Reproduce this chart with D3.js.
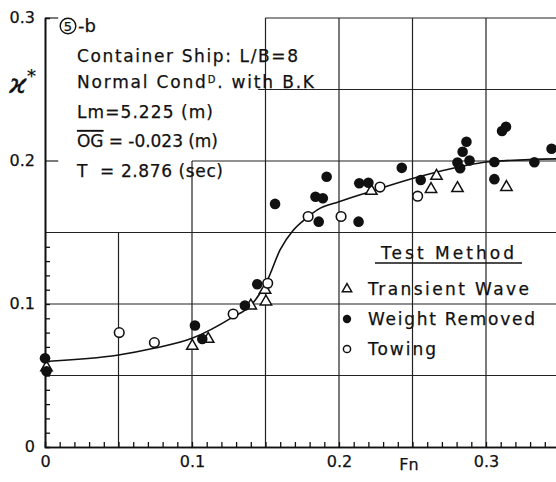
<!DOCTYPE html>
<html>
<head>
<meta charset="utf-8">
<script src="https://cdn.jsdelivr.net/npm/d3@7"></script>
<style>
  body { margin: 0; background: #fff; }
  svg { display: block; }
  text { font-family: "DejaVu Sans", sans-serif; fill: #111; stroke: #111; stroke-width: 0.25; }
</style>
</head>
<body>
<svg id="chart" width="556" height="482"></svg>
<script>
// Weight Removed (filled circles)
var weightFn = [0, 0.001, 0.102, 0.107, 0.136, 0.1444, 0.1565, 0.1916, 0.184, 0.189, 0.1862, 0.2133,
                0.2138, 0.220, 0.2427, 0.2556, 0.2867, 0.2841, 0.2806, 0.2888, 0.2824, 0.3057, 0.3057,
                0.3109, 0.3136, 0.3329, 0.3446];
var weightK  = [0.062, 0.053, 0.085, 0.0755, 0.099, 0.1138, 0.170, 0.189, 0.175, 0.174, 0.1576, 0.1576,
                0.1844, 0.1848, 0.1952, 0.1867, 0.2135, 0.2065, 0.199, 0.2003, 0.1949, 0.1993, 0.1873,
                0.221, 0.224, 0.1991, 0.2086];
// Transient Wave (triangles)
var transFn = [0.001, 0.1002, 0.111, 0.140, 0.1503, 0.1497, 0.222, 0.2663, 0.2626, 0.2806, 0.3139];
var transK  = [0.0557, 0.0706, 0.0755, 0.0988, 0.1016, 0.1098, 0.179, 0.1895, 0.1803, 0.1809, 0.1817];
// Towing (open circles)
var towFn = [0.0505, 0.0744, 0.128, 0.1515, 0.179, 0.2014, 0.2279, 0.2535];
var towK  = [0.080, 0.073, 0.093, 0.1145, 0.1612, 0.1612, 0.1818, 0.1754];
// faired curve
var curveFn = [0, 0.05, 0.074, 0.1, 0.128, 0.14, 0.151, 0.16, 0.169, 0.179, 0.185, 0.2, 0.221, 0.253, 0.282, 0.302, 0.348];
var curveK  = [0.0598, 0.0643, 0.069, 0.076, 0.091, 0.099, 0.116, 0.138, 0.1517, 0.161, 0.1657, 0.1715, 0.1785, 0.1886, 0.196, 0.1995, 0.2015];

var xTicks = [0, 0.1, 0.2, 0.3],
    xTickLabels = ["0", "0.1", "0.2", "0.3"],
    yTicks = [0, 0.1, 0.2, 0.3],
    yTickLabels = ["0", "0.1", "0.2", "0.3"];

var infoLines = ["Container Ship: L/B=8", "Normal Cond", "Lm=5.225 (m)", "OG = -0.023 (m)", "T  = 2.876 (sec)"];
var legendLabels = ["Transient Wave", "Weight Removed", "Towing"];

var svg = d3.select("#chart");

var x = d3.scaleLinear().domain([0, 0.35]).range([45, 559.5]);
var y = d3.scaleLinear().domain([0, 0.3]).range([447, 18]);

var ink = "#111";

// grid pieces (only partly drawn, like the original sheet)
var grid = [
  [0.05, 0, 0.05, 0.15], [0.1, 0, 0.1, 0.2], [0.15, 0, 0.15, 0.3],
  [0.2, 0, 0.2, 0.3], [0.25, 0, 0.25, 0.3], [0.3, 0, 0.3, 0.3],
  [0, 0.05, 0.35, 0.05], [0, 0.1, 0.35, 0.1], [0, 0.15, 0.35, 0.15],
  [0.1, 0.2, 0.35, 0.2], [0, 0.2, 0.009, 0.2],
  [0.145, 0.25, 0.35, 0.25],
  [0.15, 0.3, 0.35, 0.3], [0, 0.3, 0.009, 0.3]
];
svg.append("g").selectAll("line").data(grid).enter().append("line")
    .attr("x1", function(d) { return x(d[0]); })
    .attr("y1", function(d) { return y(d[1]); })
    .attr("x2", function(d) { return x(d[2]); })
    .attr("y2", function(d) { return y(d[3]); })
    .attr("stroke", "#222").attr("stroke-width", 1.2);

// axes
var yMinor = d3.range(1, 15).map(function(i) { return i / 100; });
var xMinor = d3.range(1, 35).map(function(i) { return i / 100; });

svg.append("g")
    .attr("transform", "translate(" + x(0) + ",0)")
    .call(d3.axisRight(y).tickValues(yMinor).tickSize(5).tickFormat(""))
    .call(styleAxis);

svg.append("g")
    .attr("transform", "translate(0," + y(0) + ")")
    .call(d3.axisTop(x).tickValues(xMinor).tickSize(5).tickFormat(""))
    .call(styleAxis);

svg.append("g")
    .attr("transform", "translate(" + x(0) + ",0)")
    .call(d3.axisLeft(y).tickValues(yTicks).tickSize(0).tickPadding(10)
      .tickFormat(function(d, i) { return yTickLabels[i]; }))
    .call(styleAxis)
    .call(function(g) { g.selectAll(".tick text").attr("font-size", 16).attr("dy", "0.3em"); });

svg.append("g")
    .attr("transform", "translate(0," + y(0) + ")")
    .call(d3.axisBottom(x).tickValues(xTicks).tickSize(0).tickPadding(9)
      .tickFormat(function(d, i) { return xTickLabels[i]; }))
    .call(styleAxis)
    .call(function(g) { g.selectAll(".tick text").attr("font-size", 16); });

function styleAxis(g) {
  g.select(".domain").attr("stroke", ink).attr("stroke-width", 1.6);
  g.selectAll(".tick line").attr("stroke", ink).attr("stroke-width", 1.3);
  g.selectAll(".tick text").attr("fill", ink).attr("font-family", "DejaVu Sans");
}

svg.append("text").attr("x", 409).attr("y", 470).attr("text-anchor", "middle")
    .attr("font-size", 16).text("Fn");

var ylab = svg.append("text").attr("x", 9).attr("y", 93)
    .attr("font-family", "DejaVu Serif").attr("font-style", "italic").attr("font-size", 27);
ylab.append("tspan").text("ϰ");
ylab.append("tspan").attr("dy", -11).attr("font-size", 18).attr("font-style", "normal").text("*");

// curve
var line = d3.line()
    .x(function(d, i) { return x(curveFn[i]); })
    .y(function(d, i) { return y(curveK[i]); })
    .curve(d3.curveMonotoneX);
svg.append("path").datum(curveFn)
    .attr("fill", "none").attr("stroke", ink).attr("stroke-width", 1.6)
    .attr("d", line);

// markers
var tri = d3.symbol().type(d3.symbolTriangle).size(56);
svg.append("g").selectAll("path").data(transFn).enter().append("path")
    .attr("transform", function(d, i) { return "translate(" + x(d) + "," + y(transK[i]) + ")"; })
    .attr("d", tri).attr("fill", "#fff").attr("stroke", ink).attr("stroke-width", 1.5);

svg.append("g").selectAll("circle").data(towFn).enter().append("circle")
    .attr("cx", function(d) { return x(d); })
    .attr("cy", function(d, i) { return y(towK[i]); })
    .attr("r", 4.8).attr("fill", "#fff").attr("stroke", ink).attr("stroke-width", 1.6);

svg.append("g").selectAll("circle").data(weightFn).enter().append("circle")
    .attr("cx", function(d) { return x(d); })
    .attr("cy", function(d, i) { return y(weightK[i]); })
    .attr("r", 5.3).attr("fill", ink);

// info text block
var info = svg.append("g").attr("font-size", 17);
// circled 5 drawn as ring + digit (DejaVu's ⑤ glyph is too small)
info.append("circle").attr("cx", 68).attr("cy", 26).attr("r", 7.8)
    .attr("fill", "none").attr("stroke", ink).attr("stroke-width", 1.4);
info.append("text").attr("x", 68).attr("y", 31).attr("text-anchor", "middle")
    .attr("font-size", 13).text("5");
info.append("text").attr("x", 78).attr("y", 32).attr("font-size", 18).text("-b");

info.append("text").attr("x", 77).attr("y", 62).attr("textLength", 221).attr("lengthAdjust", "spacing")
    .text(infoLines[0]);
var t2 = info.append("text").attr("x", 77).attr("y", 88).attr("textLength", 237).attr("lengthAdjust", "spacing");
t2.append("tspan").text(infoLines[1]);
t2.append("tspan").attr("font-size", 10).attr("dy", -5).text("D");
t2.append("tspan").attr("dy", 5).text(". with B.K");
info.append("text").attr("x", 77).attr("y", 118).attr("textLength", 136).attr("lengthAdjust", "spacing")
    .text(infoLines[2]);
var t4 = info.append("text").attr("x", 77).attr("y", 147).attr("textLength", 141).attr("lengthAdjust", "spacing");
t4.append("tspan").style("text-decoration", "overline").text("OG");
t4.append("tspan").text(infoLines[3].slice(2));
info.append("text").attr("x", 77).attr("y", 177).attr("textLength", 146).attr("lengthAdjust", "spacing")
    .attr("xml:space", "preserve").style("white-space", "pre")
    .text(infoLines[4]);

// legend
var lg = svg.append("g").attr("font-size", 17);
lg.append("text").attr("x", 381).attr("y", 259).attr("textLength", 133).attr("lengthAdjust", "spacing")
    .text("Test Method");
lg.append("line").attr("x1", 375).attr("x2", 522).attr("y1", 263).attr("y2", 263)
    .attr("stroke", ink).attr("stroke-width", 1.3);
var legW = [161, 167, 68];
legendLabels.forEach(function(s, i) {
  lg.append("text").attr("x", 368).attr("y", 295 + i * 30)
      .attr("textLength", legW[i]).attr("lengthAdjust", "spacing").text(s);
});
lg.append("path").attr("transform", "translate(347,289)")
    .attr("d", d3.symbol().type(d3.symbolTriangle).size(38))
    .attr("fill", "#fff").attr("stroke", ink).attr("stroke-width", 1.5);
lg.append("circle").attr("cx", 347).attr("cy", 319).attr("r", 4.2).attr("fill", ink);
lg.append("circle").attr("cx", 347).attr("cy", 349).attr("r", 3.6)
    .attr("fill", "#fff").attr("stroke", ink).attr("stroke-width", 1.5);
</script>
</body>
</html>
